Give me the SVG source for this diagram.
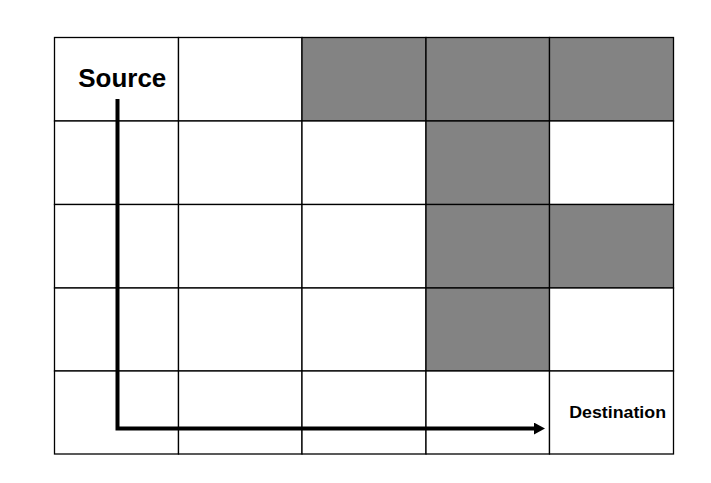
<svg xmlns="http://www.w3.org/2000/svg" width="711" height="483" viewBox="0 0 711 483">
<defs>
<style>
.cell{fill:#ffffff;stroke:#000;stroke-width:1.3}
.blk{fill:#838383;stroke:#000;stroke-width:1.3}
.lbl{font-family:"Liberation Sans",Arial,sans-serif;font-weight:bold;fill:#000}
.path{fill:none;stroke:#000;stroke-width:4}
</style>
<marker id="ah" viewBox="0 0 12 12" refX="0" refY="6" markerWidth="12" markerHeight="12" markerUnits="userSpaceOnUse" orient="auto">
<path d="M0,0 L11,6 L0,12 Z" fill="#000"/>
</marker>
</defs>
<rect width="711" height="483" fill="#fff"/>
<g id="grid">
<rect id="c00" class="cell" x="54.5" y="37.5" width="124" height="83.5"/>
<rect id="c01" class="cell" x="178.5" y="37.5" width="123.5" height="83.5"/>
<rect id="c02" class="blk" x="302" y="37.5" width="124" height="83.5"/>
<rect id="c03" class="blk" x="426" y="37.5" width="123.5" height="83.5"/>
<rect id="c04" class="blk" x="549.5" y="37.5" width="124" height="83.5"/>

<rect id="c10" class="cell" x="54.5" y="121" width="124" height="83.5"/>
<rect id="c11" class="cell" x="178.5" y="121" width="123.5" height="83.5"/>
<rect id="c12" class="cell" x="302" y="121" width="124" height="83.5"/>
<rect id="c13" class="blk" x="426" y="121" width="123.5" height="83.5"/>
<rect id="c14" class="cell" x="549.5" y="121" width="124" height="83.5"/>

<rect id="c20" class="cell" x="54.5" y="204.5" width="124" height="83.5"/>
<rect id="c21" class="cell" x="178.5" y="204.5" width="123.5" height="83.5"/>
<rect id="c22" class="cell" x="302" y="204.5" width="124" height="83.5"/>
<rect id="c23" class="blk" x="426" y="204.5" width="123.5" height="83.5"/>
<rect id="c24" class="blk" x="549.5" y="204.5" width="124" height="83.5"/>

<rect id="c30" class="cell" x="54.5" y="288" width="124" height="83"/>
<rect id="c31" class="cell" x="178.5" y="288" width="123.5" height="83"/>
<rect id="c32" class="cell" x="302" y="288" width="124" height="83"/>
<rect id="c33" class="blk" x="426" y="288" width="123.5" height="83"/>
<rect id="c34" class="cell" x="549.5" y="288" width="124" height="83"/>

<rect id="c40" class="cell" x="54.5" y="371" width="124" height="83"/>
<rect id="c41" class="cell" x="178.5" y="371" width="123.5" height="83"/>
<rect id="c42" class="cell" x="302" y="371" width="124" height="83"/>
<rect id="c43" class="cell" x="426" y="371" width="123.5" height="83"/>
<rect id="c44" class="cell" x="549.5" y="371" width="124" height="83"/>
</g>
<g id="source">
<text class="lbl" x="78.3" y="86.5" font-size="26" textLength="88" lengthAdjust="spacingAndGlyphs">Source</text>
</g>
<g id="destination">
<text class="lbl" x="569.3" y="417.7" font-size="16" textLength="96.7" lengthAdjust="spacingAndGlyphs">Destination</text>
</g>
<g id="connectors">
<path class="path" d="M117.5,99 L117.5,428.6 L534,428.6" marker-end="url(#ah)"/>
</g>
</svg>
